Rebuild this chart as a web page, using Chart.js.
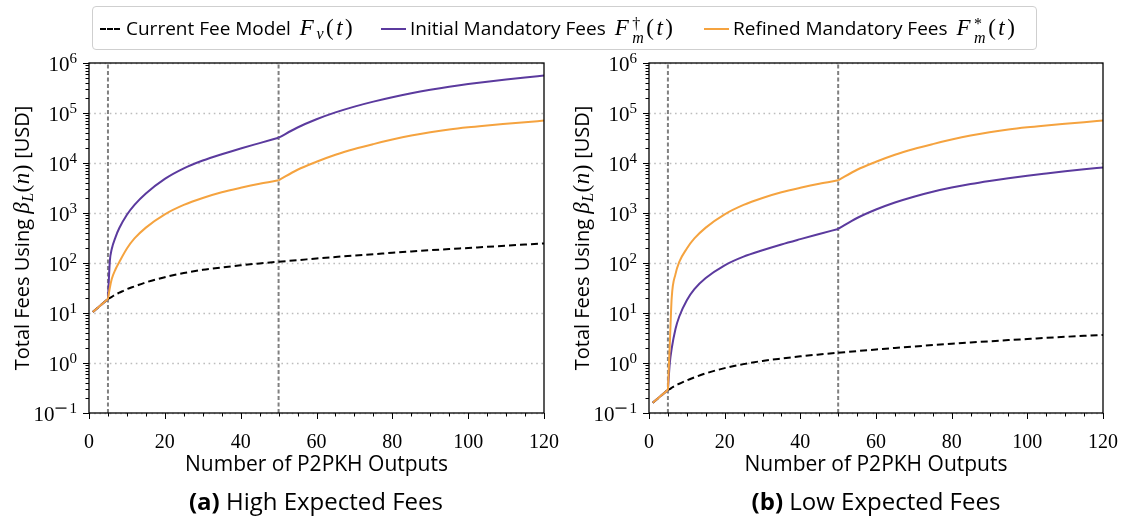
<!DOCTYPE html>
<html>
<head>
<meta charset="utf-8">
<script src="https://cdn.jsdelivr.net/npm/chart.js@4.4.1/dist/chart.umd.min.js"></script>
<style>
body { margin: 0; width: 1127px; height: 520px; position: relative; background: #fff; overflow: hidden; font-family: "Open Sans", sans-serif; color: #000; }
canvas { position: absolute; top: 0; }
#legend { position: absolute; left: 92px; top: 6px; width: 945px; height: 44px; border: 1px solid #cfcfcf; border-radius: 4px; box-sizing: border-box; }
.item { position: absolute; top: 0; height: 42px; line-height: 42px; font-size: 19px; white-space: nowrap; }
.sw { position: absolute; top: 21px; height: 0; }
.math { font-family: "Liberation Serif", serif; font-size: 24px; letter-spacing: 0.5px; }
#legend .math { font-size: 23px; letter-spacing: 2.5px; margin-left: 4px; }
.math i { font-style: italic; }
.math sub { font-size: 16px; vertical-align: -4px; line-height: 0; }
.ss { display: inline-block; vertical-align: -8px; line-height: 14px; font-size: 16px; margin-left: 1px; }
.ss span { display: block; }
.ytitle { position: absolute; width: 340px; height: 26px; line-height: 26px; text-align: center; font-size: 20px; transform: rotate(-90deg); white-space: nowrap; }
.ytitle .math { font-size: 23px; }
.caption { position: absolute; top: 484px; width: 400px; text-align: center; font-size: 24px; white-space: nowrap; }
</style>
</head>
<body>
<canvas id="chartHigh" width="560" height="520" style="left:0"></canvas>
<canvas id="chartLow" width="567" height="520" style="left:560px"></canvas>

<div id="legend">
  <div class="item" style="left:33px"><span class="sw" style="left:-26px;width:20px;border-top:2px dashed #000"></span>Current Fee Model <span class="math"><i>F</i><sub><i>v</i></sub>(<i>t</i>)</span></div>
  <div class="item" style="left:317px"><span class="sw" style="left:-29px;width:25px;border-top:2.5px solid #5b3a9e"></span>Initial Mandatory Fees <span class="math"><i>F</i><span class="ss"><span>&dagger;</span><span><i>m</i></span></span>(<i>t</i>)</span></div>
  <div class="item" style="left:640px"><span class="sw" style="left:-29px;width:25px;border-top:2.5px solid #f5a33f"></span>Refined Mandatory Fees <span class="math"><i>F</i><span class="ss"><span>*</span><span><i>m</i></span></span>(<i>t</i>)</span></div>
</div>

<div class="ytitle" style="left:-148px;top:225px">Total Fees Using <span class="math"><i>&beta;</i><sub><i>L</i></sub>(<i>n</i>)</span> [USD]</div>
<div class="ytitle" style="left:412px;top:225px">Total Fees Using <span class="math"><i>&beta;</i><sub><i>L</i></sub>(<i>n</i>)</span> [USD]</div>

<div class="caption" style="left:116px"><b>(a)</b> High Expected Fees</div>
<div class="caption" style="left:676px"><b>(b)</b> Low Expected Fees</div>

<script>
// number of P2PKH outputs at which the curves were read
const nPts = [1, 5, 5.5, 6, 7, 8, 10, 12, 15, 20, 25, 30, 35, 40, 45, 50, 55, 60, 65, 70, 75, 80, 85, 90, 95, 100, 105, 110, 115, 120];

// (a) high expected fees, USD
const currentHigh = [10.5, 19, 20, 21, 23.5, 25.5, 30, 34, 41, 52, 63, 73, 81, 90, 98, 106, 114, 123, 132, 141, 150, 160, 170, 180, 190, 200, 211, 222, 234, 246];
const initialHigh = [10.5, 19, 110, 190, 330, 500, 920, 1450, 2450, 4800, 7800, 11200, 15000, 19500, 25000, 32000, 51300, 75000, 102800, 134300, 169000, 207000, 247700, 290400, 335000, 379300, 423600, 467700, 512900, 559800];
const refinedHigh = [10.5, 19, 32, 48, 75, 105, 195, 310, 510, 940, 1450, 2000, 2600, 3200, 3850, 4500, 7330, 10590, 14620, 19050, 23880, 29380, 35320, 41210, 46990, 52000, 56490, 60950, 65610, 70470];

// (b) low expected fees, USD
const currentLow = [0.16, 0.29, 0.30, 0.32, 0.355, 0.385, 0.45, 0.515, 0.62, 0.79, 0.95, 1.1, 1.23, 1.36, 1.48, 1.6, 1.73, 1.86, 2.0, 2.14, 2.28, 2.42, 2.57, 2.72, 2.87, 3.02, 3.18, 3.34, 3.5, 3.65];
const initialLow = [0.16, 0.29, 1.0, 1.95, 4.8, 8.5, 18, 30, 50, 90, 134, 180, 235, 300, 380, 480, 794, 1175, 1622, 2120, 2661, 3221, 3802, 4375, 4955, 5560, 6166, 6808, 7464, 8128];
const refinedLow = [0.16, 0.29, 2.4, 20, 60, 105, 195, 310, 510, 940, 1450, 2000, 2600, 3200, 3850, 4500, 7330, 10590, 14620, 19050, 23880, 29380, 35320, 41210, 46990, 52000, 56490, 60950, 65610, 70470];

// dashed vertical markers (also where the curves have a kink) and axis ticks
const markerN = [5, 50];
const yExponents = [-1, 0, 1, 2, 3, 4, 5, 6];
const xMax = 120;

const PURPLE = '#5b3a9e';
const ORANGE = '#f5a33f';

// split a series at the kinks so each piece is smoothed on its own
function pieces(values) {
    const cuts = [0, ...markerN.map(n => nPts.indexOf(n)), nPts.length - 1];
    const out = [];
    for (let k = 0; k < cuts.length - 1; k++) {
        const part = [];
        for (let i = cuts[k]; i <= cuts[k + 1]; i++) part.push({ x: nPts[i], y: values[i] });
        out.push(part);
    }
    return out;
}

// gridlines, frame, tick marks and 10^k labels
const decoPlugin = {
    id: 'deco',
    beforeDatasetsDraw(chart) {
        const { ctx, chartArea: a, scales: { y } } = chart;
        ctx.save();
        ctx.strokeStyle = '#bdbdbd';
        ctx.lineWidth = 1.6;
        ctx.setLineDash([1.6, 3.6]);
        yExponents.forEach(e => {
            const py = Math.round(y.getPixelForValue(Math.pow(10, e))) + 0.5;
            ctx.beginPath();
            ctx.moveTo(a.left, py);
            ctx.lineTo(a.right, py);
            ctx.stroke();
        });
        ctx.restore();
    },
    afterDatasetsDraw(chart) {
        const { ctx, chartArea: a, scales: { x, y } } = chart;
        ctx.save();
        ctx.strokeStyle = '#000';
        ctx.lineWidth = 1.3;
        ctx.strokeRect(a.left, a.top, a.right - a.left, a.bottom - a.top);

        // y ticks, outside
        ctx.lineWidth = 1;
        for (let e = -1; e <= 6; e++) {
            for (let m = 1; m <= 9; m++) {
                const v = m * Math.pow(10, e);
                if (v > 1e6) break;
                const py = Math.round(y.getPixelForValue(v)) + 0.5;
                const len = m === 1 ? 6 : 3.5;
                ctx.beginPath();
                ctx.moveTo(a.left, py);
                ctx.lineTo(a.left - len, py);
                ctx.stroke();
            }
        }
        // x ticks, outside
        for (let n = 0; n <= xMax; n += 5) {
            const px = Math.round(x.getPixelForValue(n)) + 0.5;
            const len = n % 20 === 0 ? 6 : 3.5;
            ctx.beginPath();
            ctx.moveTo(px, a.bottom);
            ctx.lineTo(px, a.bottom + len);
            ctx.stroke();
        }

        // y labels as 10 with a raised exponent
        ctx.fillStyle = '#000';
        ctx.textBaseline = 'alphabetic';
        const right = a.left - 12;
        yExponents.forEach(e => {
            const py = y.getPixelForValue(Math.pow(10, e));
            ctx.font = '15px "Liberation Serif"';
            const digit = String(Math.abs(e));
            const dw = ctx.measureText(digit).width;
            const ew = e < 0 ? dw + 15 : dw;
            ctx.fillText(digit, right - dw, py - 0.5);
            if (e < 0) ctx.fillRect(right - ew + 1, py - 5.5, 11, 1.2);
            ctx.font = '21px "Liberation Serif"';
            const bw = ctx.measureText('10').width;
            ctx.fillText('10', right - ew - bw, py + 7.5);
        });
        ctx.restore();
    }
};

function lineSets(values, style) {
    return pieces(values).map(part => Object.assign({
        data: part,
        pointRadius: 0,
        borderWidth: 2,
        cubicInterpolationMode: 'monotone'
    }, style));
}

function makeChart(id, current, initial, refined, padRight) {
    const markers = markerN.map(n => ({
        data: [{ x: n, y: 0.1 }, { x: n, y: 1e6 }],
        borderColor: '#808080',
        borderWidth: 2,
        borderDash: [4, 2.5],
        pointRadius: 0,
        order: 3
    }));
    new Chart(document.getElementById(id), {
        type: 'line',
        data: {
            datasets: [
                ...lineSets(current, { label: 'Current Fee Model', borderColor: '#000', borderDash: [7, 4], order: 2 }),
                ...lineSets(initial, { label: 'Initial Mandatory Fees', borderColor: PURPLE, order: 1 }),
                ...lineSets(refined, { label: 'Refined Mandatory Fees', borderColor: ORANGE, order: 0 }),
                ...markers
            ]
        },
        options: {
            responsive: false,
            animation: false,
            devicePixelRatio: 1,
            layout: { padding: { left: 0, top: 63, right: padRight, bottom: 42 } },
            plugins: { legend: { display: false }, tooltip: { enabled: false } },
            scales: {
                x: {
                    type: 'linear',
                    min: 0,
                    max: xMax,
                    grid: { display: false, drawTicks: false },
                    border: { display: false },
                    ticks: {
                        stepSize: 20,
                        padding: 18,
                        color: '#000',
                        font: { family: 'Liberation Serif', size: 20 },
                        maxRotation: 0
                    },
                    title: {
                        display: true,
                        text: 'Number of P2PKH Outputs',
                        color: '#000',
                        font: { family: 'Open Sans', size: 21 },
                        padding: { top: 0, bottom: 0 }
                    },
                    afterFit(scale) {
                        scale.height = 65;
                        scale.paddingLeft = 0;
                        scale.paddingRight = 0;
                    }
                },
                y: {
                    type: 'logarithmic',
                    min: 0.1,
                    max: 1e6,
                    grid: { display: false, drawTicks: false },
                    border: { display: false },
                    ticks: { display: false },
                    afterFit(scale) { scale.width = 89; }
                }
            }
        },
        plugins: [decoPlugin]
    });
}

makeChart('chartHigh', currentHigh, initialHigh, refinedHigh, 16);
makeChart('chartLow', currentLow, initialLow, refinedLow, 24);
</script>
</body>
</html>
